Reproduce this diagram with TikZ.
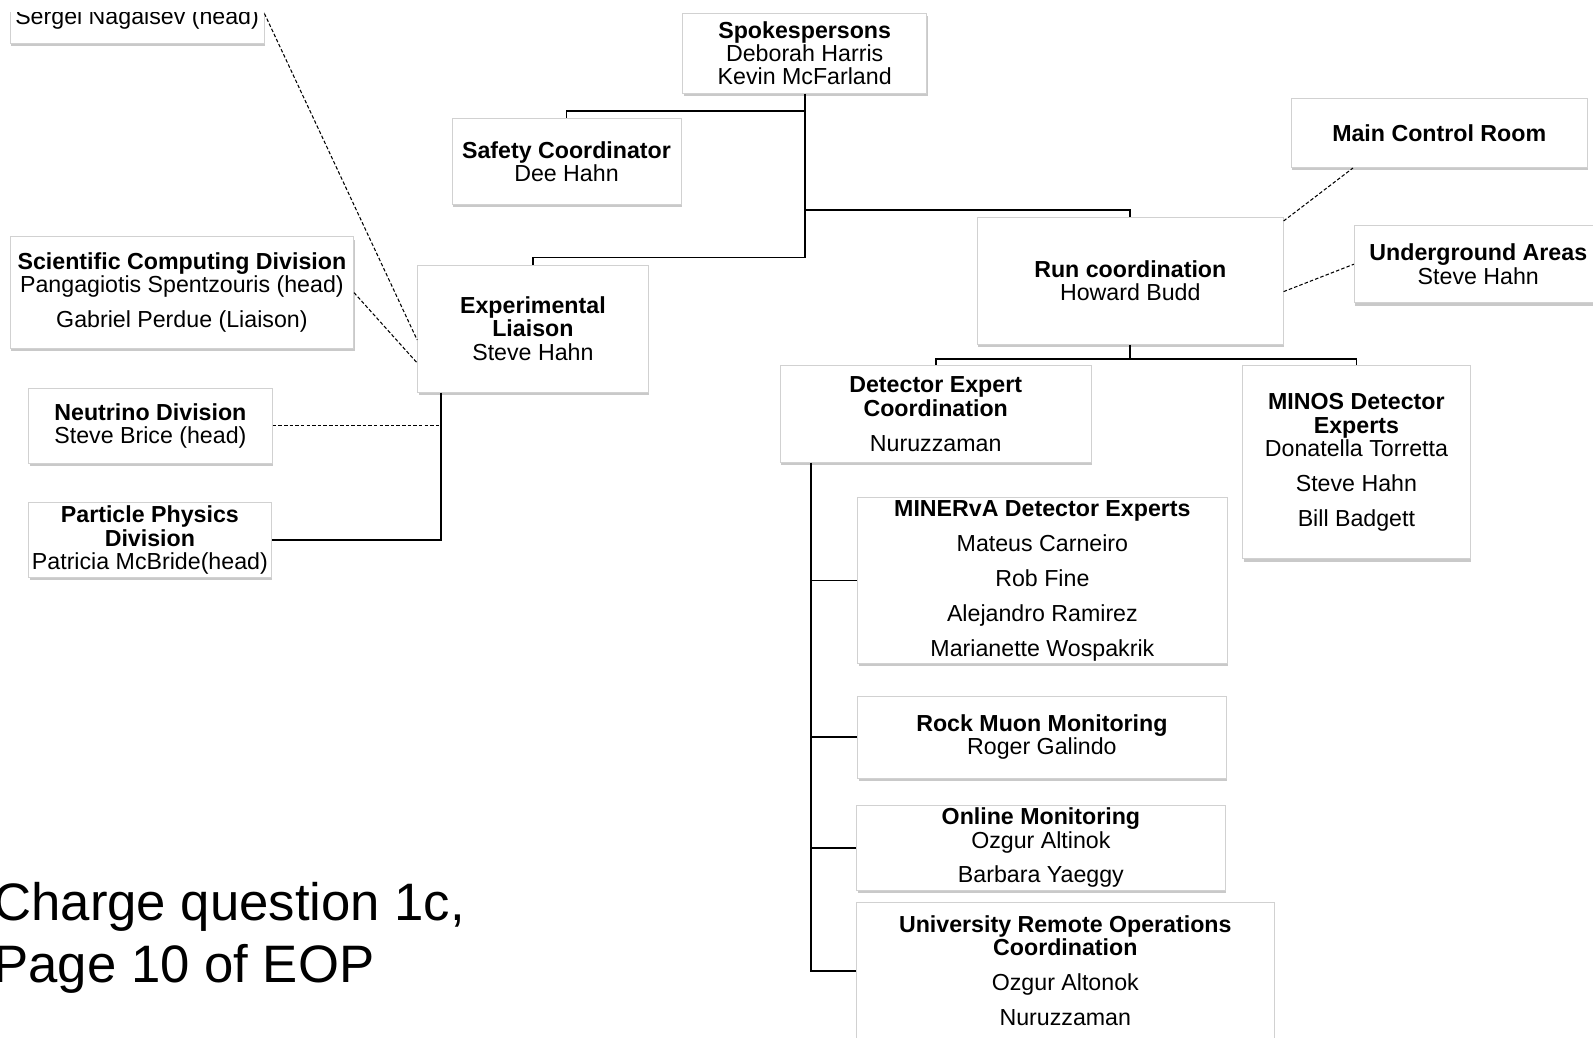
\documentclass[tikz,border=0pt]{standalone}
\usepackage{fontspec}
\setmainfont{Liberation Sans}
\usetikzlibrary{calc,shadows}
\tikzset{
  orgbox/.style={draw=black!18, line width=0.5pt, fill=white, inner sep=0pt, align=center,
    font=\fontsize{13.2}{13.3}\selectfont,
    drop shadow={shadow xshift=0.6pt, shadow yshift=-1.6pt, opacity=0.35, fill=black!60}},
  link/.style={black, line width=1pt},
  dlink/.style={black, line width=0.6pt, dash pattern=on 2pt off 1.2pt},
}
\newcommand{\namegap}{\\[6.6pt]}

\begin{document}
\begin{tikzpicture}[x=0.02cm,y=-0.02cm]
  \useasboundingbox (0,0) rectangle (1593,1038);
  \fill[white] (0,0) rectangle (1593,1038);
  \clip (0,0) rectangle (1593,1038);
  % boxes
  \begin{scope}
    \clip (0,12) rectangle (300,80);
    \node[orgbox, minimum width=5.076cm, minimum height=1.0cm] (sergei) at (137.1,18.5) {Sergei Nagaisev (head)};
  \end{scope}
  \node[orgbox, minimum width=4.876cm, minimum height=1.606cm] (sp) at (804.7,53.3)
    {\textbf{Spokespersons}\\Deborah Harris\\Kevin McFarland};
  \node[orgbox, minimum width=4.58cm, minimum height=1.706cm] (sc) at (566.5,161.5)
    {\textbf{Safety Coordinator}\\Dee Hahn};
  \node[orgbox, minimum width=4.612cm, minimum height=2.54cm] (el) at (532.9,328.7)
    {\textbf{Experimental}\\\textbf{Liaison}\\Steve Hahn};
  \node[orgbox, minimum width=6.116cm, minimum height=2.54cm] (run) at (1130.3,280.9)
    {\textbf{Run coordination}\\Howard Budd};
  \node[orgbox, minimum width=5.914cm, minimum height=1.38cm] (mcr) at (1439.2,133.1)
    {\textbf{Main Control Room}};
  \node[orgbox, minimum width=4.96cm, minimum height=1.544cm] (ua) at (1478.3,264.2)
    {\textbf{Underground Areas}\\Steve Hahn};
  \node[orgbox, minimum width=4.552cm, minimum height=3.86cm] (minos) at (1356.4,462.3)
    {\textbf{MINOS Detector}\\\textbf{Experts}\\Donatella Torretta\namegap Steve Hahn\namegap Bill Badgett};
  \node[orgbox, minimum width=6.218cm, minimum height=1.93cm] (dec) at (935.7,414)
    {\textbf{Detector Expert}\\\textbf{Coordination}\namegap Nuruzzaman};
  \node[orgbox, minimum width=7.396cm, minimum height=3.312cm] (minerva) at (1042.4,580.6)
    {\textbf{MINERvA Detector Experts}\namegap Mateus Carneiro\namegap Rob Fine\namegap Alejandro Ramirez\namegap Marianette Wospakrik};
  \node[orgbox, minimum width=7.376cm, minimum height=1.646cm] (rock) at (1041.9,737.1)
    {\textbf{Rock Muon Monitoring}\\Roger Galindo};
  \node[orgbox, minimum width=7.376cm, minimum height=1.686cm] (online) at (1040.9,847.8)
    {\textbf{Online Monitoring}\\Ozgur Altinok\namegap Barbara Yaeggy};
  \node[orgbox, minimum width=8.35cm, minimum height=2.744cm] (univ) at (1065.3,970.8)
    {\textbf{University Remote Operations}\\\textbf{Coordination}\namegap Ozgur Altonok\namegap Nuruzzaman};
  \node[orgbox, minimum width=6.868cm, minimum height=2.236cm] (sci) at (181.9,292.6)
    {\textbf{Scientific Computing Division}\\Pangagiotis Spentzouris (head)\namegap Gabriel Perdue (Liaison)};
  \node[orgbox, minimum width=4.878cm, minimum height=1.504cm] (nd) at (150.4,425.7)
    {\textbf{Neutrino Division}\\Steve Brice (head)};
  \node[orgbox, minimum width=4.858cm, minimum height=1.484cm] (ppd) at (149.9,540)
    {\textbf{Particle Physics}\\\textbf{Division}\\Patricia McBride(head)};
  % tree
  \draw[link] (sp.south) -- ++(0,17.2) -| (sc.north);
  \draw[link] (sp.south) -- ++(0,163.5) -| (el.north);
  \draw[link] (sp.south) ++(0,115.8) -| (run.north);
  \draw[link] (run.south) -- ++(0,14.2) -| (dec.north);
  \draw[link] (run.south) ++(0,14.2) -| (minos.north);
  \coordinate (dtrunk) at ($(dec.south)+(-124.9,0)$);
  \draw[link] (dtrunk) |- (univ.west);
  \foreach \b in {minerva,rock,online}
    \draw[link] (dtrunk |- \b.west) -- (\b.west);
  \coordinate (etrunk) at ($(el.south)+(-91.9,0)$);
  \draw[link] (etrunk) |- (ppd.east);
  \draw[dlink] (nd.east) -- (nd.east -| etrunk);
  % dotted ties
  \draw[dlink] ($(sergei.east)+(0,-5)$) -- ($(el.west)+(0,11.3)$);
  \draw[dlink] (sci.east) -- ($(el.west)+(0,34.3)$);
  \draw[dlink] ($(run.north east)+(0,4)$) -- ($(mcr.south west)+(62,0)$);
  \draw[dlink] ($(run.east)+(0,10.7)$) -- (ua.west);
  % note
  \node[anchor=north west, inner sep=0pt, align=left, font=\fontsize{30}{35}\selectfont] (charge) at (-7,882)
    {Charge question 1c,\\Page 10 of EOP};
\end{tikzpicture}
\end{document}
